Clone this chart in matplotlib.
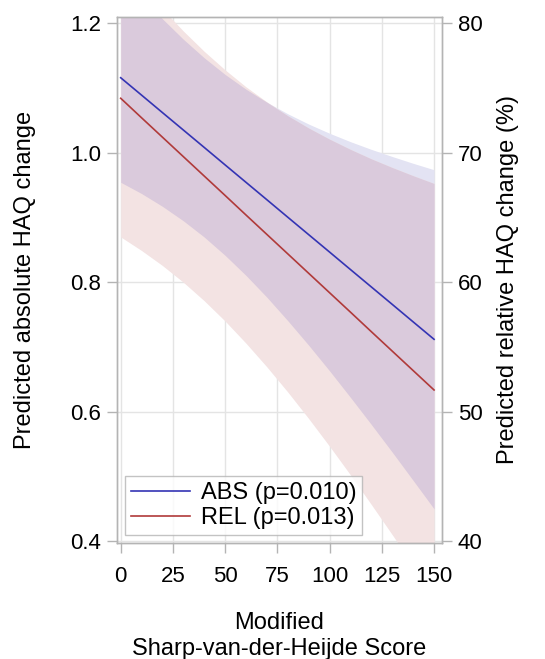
import matplotlib
matplotlib.use("Agg")
import matplotlib.pyplot as plt
import numpy as np

plt.rcParams['font.family'] = ['Liberation Sans', 'DejaVu Sans']

# Modified Sharp-van-der-Heijde score
score = [0, 10, 20, 30, 40, 50, 60, 70, 80, 90, 100, 110, 120, 130, 140, 150]

# ABS: predicted absolute HAQ change (left axis)
abs_mean = [1.1155, 1.0886, 1.0616, 1.0347, 1.0078, 0.9808, 0.9539, 0.9270,
            0.9000, 0.8731, 0.8462, 0.8192, 0.7923, 0.7654, 0.7384, 0.7115]
abs_lower = [0.9540, 0.9366, 0.9168, 0.8945, 0.8694, 0.8411, 0.8101, 0.7764,
             0.7402, 0.7023, 0.6627, 0.6217, 0.5798, 0.5371, 0.4935, 0.4496]
abs_upper = [1.2770, 1.2406, 1.2064, 1.1749, 1.1462, 1.1205, 1.0977, 1.0776,
             1.0598, 1.0439, 1.0297, 1.0167, 1.0048, 0.9938, 0.9833, 0.9734]

# REL: predicted relative HAQ change in % (right axis)
rel_mean = [74.19, 72.68, 71.18, 69.68, 68.18, 66.68, 65.17, 63.67,
            62.17, 60.67, 59.17, 57.67, 56.16, 54.66, 53.16, 51.66]
rel_lower = [63.48, 62.43, 61.27, 59.98, 58.55, 56.98, 55.27, 53.44,
             51.50, 49.45, 47.31, 45.10, 42.81, 40.48, 38.11, 35.71]
rel_upper = [84.89, 82.93, 81.09, 79.38, 77.81, 76.38, 75.07, 73.90,
             72.84, 71.89, 71.03, 70.24, 69.51, 68.84, 68.21, 67.61]

labels = ["ABS (p=0.010)", "REL (p=0.013)"]
xticks = [0, 25, 50, 75, 100, 125, 150]
left_ticks = [0.4, 0.6, 0.8, 1.0, 1.2]
right_ticks = [40, 50, 60, 70, 80]

FS = 16
FL = 17
c_abs = "#3434b4"
c_rel = "#b03a3a"
c_abs_band = "#e3e3f3"
c_rel_band = "#f3e3e3"
c_both = "#dacadc"
grid_c = "#e4e4e4"
frame_c = "#b4b4b4"

fig = plt.figure(figsize=(5.45, 6.59), dpi=100)
ax = fig.add_axes([117/545, 1-543/659, (442-117)/545, (543-17)/659])
ax2 = ax.twinx()

x = np.array(score)
# convert REL (%) into left-axis units for layering of bands
def to_left(v):
    return (np.asarray(v) - 20.0) / 50.0

rl = to_left(rel_lower)
ru = to_left(rel_upper)
al = np.array(abs_lower)
au = np.array(abs_upper)

ax.fill_between(x, al, au, color=c_abs_band, lw=0, zorder=1)
ax.fill_between(x, rl, ru, color=c_rel_band, lw=0, zorder=1)
ax.fill_between(x, np.maximum(al, rl), np.minimum(au, ru), color=c_both, lw=0, zorder=2)

l1, = ax.plot(x, abs_mean, color=c_abs, lw=1.2, zorder=4)
l2, = ax2.plot(x, rel_mean, color=c_rel, lw=1.2, zorder=4)

ax.set_xlim(-1.77, 153.8)
ax.set_ylim(0.3969, 1.2093)
ax2.set_ylim(0.3969*50+20, 1.2093*50+20)

ax.set_xticks(xticks)
ax.set_yticks(left_ticks)
ax.set_yticklabels([f"{t:.1f}" for t in left_ticks])
ax2.set_yticks(right_ticks)

ax.grid(True, color=grid_c, lw=1.0, zorder=0)
ax.set_axisbelow(True)

for a in (ax, ax2):
    for s in a.spines.values():
        s.set_color(frame_c)
        s.set_linewidth(1.0)
    a.tick_params(axis='both', direction='out', length=7.5, width=1.0,
                  color=frame_c, labelsize=FS, pad=4)
ax.tick_params(axis='x', pad=9)

ax.set_ylabel("Predicted absolute HAQ change", fontsize=FL)
ax.yaxis.set_label_coords(-0.249, 0.5)
ax2.set_ylabel("Predicted relative HAQ change (%)", fontsize=FL, labelpad=10)
ax.set_xlabel("Modified\nSharp-van-der-Heijde Score", fontsize=FL,
              linespacing=1.2)
ax.xaxis.set_label_coords(0.5, -0.132)

leg = ax.legend([l1, l2], labels, loc='lower left', fontsize=FL,
                frameon=True, fancybox=False, edgecolor=frame_c,
                borderpad=0.25, labelspacing=0.12, handlelength=2.5,
                handletextpad=0.45, borderaxespad=0.35)
leg.get_frame().set_linewidth(1.0)
leg.set_zorder(10)

fig.savefig("out.png", dpi=100)
